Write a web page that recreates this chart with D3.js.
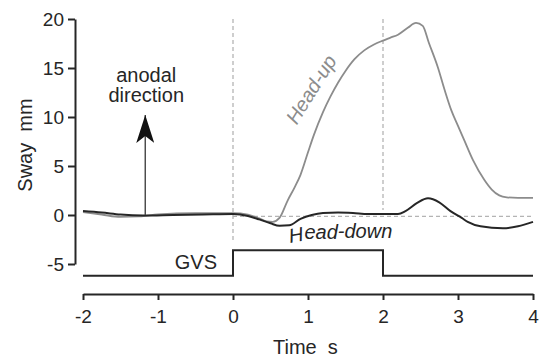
<!DOCTYPE html>
<html>
<head>
<meta charset="utf-8">
<script src="https://cdn.jsdelivr.net/npm/d3@7"></script>
<style>
  body { margin: 0; background: #fff; }
  svg { display: block; font-family: "Liberation Sans", Arial, sans-serif; }
</style>
</head>
<body>
<svg width="540" height="358"></svg>
<script>
// sway traces, time in s, sway in mm
const upTime = [-2, -1.75, -1.5, -1.25, -1, -0.5, 0, 0.2, 0.35, 0.45, 0.53, 0.62, 0.73, 0.82, 0.9, 1.0, 1.08, 1.2, 1.3, 1.4, 1.5, 1.62, 1.75, 1.88, 2.0, 2.1, 2.2, 2.33, 2.44, 2.53, 2.61, 2.73, 2.82, 2.91, 3.0, 3.08, 3.2, 3.35, 3.45, 3.55, 3.65, 3.8, 4.0];
const upSway = [0.3, 0.05, -0.2, -0.15, 0.05, 0.2, 0.2, 0.05, -0.35, -0.65, -0.7, -0.3, 1.5, 2.8, 4.1, 6.4, 8.2, 10.5, 12.1, 13.5, 14.7, 15.9, 16.8, 17.4, 17.8, 18.1, 18.4, 19.1, 19.6, 19.3, 17.6, 15.1, 12.8, 10.7, 9.1, 7.7, 5.6, 3.6, 2.6, 2.0, 1.8, 1.75, 1.75];

const downTime = [-2, -1.75, -1.5, -1.2, -0.8, -0.4, 0, 0.2, 0.35, 0.5, 0.62, 0.75, 0.9, 1.05, 1.2, 1.4, 1.6, 1.8, 2.0, 2.2, 2.3, 2.45, 2.6, 2.75, 2.9, 3.05, 3.13, 3.3, 3.6, 3.8, 4.0];
const downSway = [0.4, 0.25, 0.05, -0.05, 0.0, 0.05, 0.1, -0.1, -0.45, -0.85, -1.1, -1.05, -0.4, 0.0, 0.2, 0.25, 0.2, 0.1, 0.1, 0.1, 0.4, 1.2, 1.7, 1.3, 0.4, -0.3, -0.7, -1.15, -1.35, -1.15, -0.7];

// stimulus trace (drawn in sway units, below the traces)
const gvsTime = [-2, 0, 2, 4];
const gvsLevel = [-6.2, -3.6, -6.2, -6.2];

const xTicks = [-2, -1, 0, 1, 2, 3, 4];
const yTicks = [-5, 0, 5, 10, 15, 20];
const markTimes = [0, 2];
const markBottoms = [-2.6, 0.5];

const arrowAt = -1.17;
const arrowFrom = 0;
const arrowTo = 10.2;

const svg = d3.select("svg");
const ink = "#262626";

const x = d3.scaleLinear().domain([-2, 4]).range([83, 533]);
const y = d3.scaleLinear().domain([-5, 20]).range([264, 19]);

// dashed reference lines
markTimes.forEach((t, i) => {
  svg.append("line")
     .attr("x1", x(t)).attr("x2", x(t))
     .attr("y1", y(20)).attr("y2", y(markBottoms[i]))
     .attr("stroke", "#b4b4b4")
     .attr("stroke-width", 1.3)
     .attr("stroke-dasharray", "4,3");
});
svg.append("line")
   .attr("x1", x(0)).attr("x2", x(4))
   .attr("y1", y(-0.15)).attr("y2", y(-0.15))
   .attr("stroke", "#b4b4b4")
   .attr("stroke-width", 1.3)
   .attr("stroke-dasharray", "4,3");

// axes
const yAxis = svg.append("g")
   .attr("transform", `translate(${x(-2) - 8},0)`)
   .call(d3.axisLeft(y).tickValues(yTicks).tickSize(7).tickSizeOuter(0).tickPadding(4));
const xAxis = svg.append("g")
   .attr("transform", "translate(0,294)")
   .call(d3.axisBottom(x).tickValues(xTicks).tickSize(6).tickSizeOuter(0).tickPadding(10));

[yAxis, xAxis].forEach(g => {
  g.attr("font-family", null).attr("font-size", null);
  g.selectAll("path, line").attr("stroke", ink).attr("stroke-width", 2);
  g.selectAll("text")
   .attr("fill", ink)
   .attr("font-size", "19px")
   .text(d => d < 0 ? "-" + Math.abs(d) : d);
});
yAxis.selectAll("text").attr("dy", "0.36em");

// traces
const line = d3.line().x(d => x(d[0])).y(d => y(d[1])).curve(d3.curveMonotoneX);

svg.append("path")
   .attr("d", line(d3.zip(upTime, upSway)))
   .attr("fill", "none")
   .attr("stroke", "#8c8c8c")
   .attr("stroke-width", 1.8);

svg.append("path")
   .attr("d", line(d3.zip(downTime, downSway)))
   .attr("fill", "none")
   .attr("stroke", ink)
   .attr("stroke-width", 2);

// GVS step
svg.append("path")
   .attr("d", d3.line().x(d => x(d[0])).y(d => y(d[1])).curve(d3.curveStepAfter)(d3.zip(gvsTime, gvsLevel)))
   .attr("fill", "none")
   .attr("stroke", ink)
   .attr("stroke-width", 2);

svg.append("text")
   .attr("x", x(0) - 16)
   .attr("y", 269)
   .attr("text-anchor", "end")
   .attr("font-size", "20px")
   .attr("fill", ink)
   .text("GVS");

// anodal arrow
svg.append("defs").append("marker")
   .attr("id", "head")
   .attr("viewBox", "0 0 28 18")
   .attr("refX", 28)
   .attr("refY", 9)
   .attr("markerUnits", "userSpaceOnUse")
   .attr("markerWidth", 28)
   .attr("markerHeight", 18)
   .attr("orient", "auto")
   .append("path")
   .attr("d", "M 0 0 L 28 9 L 0 18 L 7 9 Z")
   .attr("fill", "#111");

svg.append("line")
   .attr("x1", x(arrowAt)).attr("x2", x(arrowAt))
   .attr("y1", y(arrowFrom)).attr("y2", y(arrowTo))
   .attr("stroke", "#444")
   .attr("stroke-width", 1.4)
   .attr("marker-end", "url(#head)");

svg.append("text")
   .attr("x", x(arrowAt) + 1)
   .attr("y", 82)
   .attr("text-anchor", "middle")
   .attr("font-size", "20px")
   .attr("fill", ink)
   .text("anodal");
svg.append("text")
   .attr("x", x(arrowAt) + 1)
   .attr("y", 102)
   .attr("text-anchor", "middle")
   .attr("font-size", "20px")
   .attr("fill", ink)
   .text("direction");

// trace labels
svg.append("text")
   .attr("transform", "translate(317,93) rotate(-58)")
   .attr("text-anchor", "middle")
   .attr("font-size", "20px")
   .attr("font-style", "italic")
   .attr("fill", "#8c8c8c")
   .text("Head-up");

const hd = svg.append("text")
   .attr("x", 290)
   .attr("y", 243)
   .attr("font-size", "20px")
   .attr("font-style", "italic")
   .attr("fill", ink);
hd.append("tspan").attr("rotate", "-10").text("H");
hd.append("tspan").attr("dy", -4).text("ead");
hd.append("tspan").attr("dy", -1).text("-down");

// axis titles
svg.append("text")
   .attr("transform", "translate(32,145) rotate(-90)")
   .attr("text-anchor", "middle")
   .attr("font-size", "20px")
   .attr("fill", ink)
   .style("white-space", "pre")
   .text("Sway  mm");

svg.append("text")
   .attr("x", 273)
   .attr("y", 354)
   .attr("font-size", "20px")
   .attr("fill", ink)
   .style("white-space", "pre")
   .text("Time  s");
</script>
</body>
</html>
